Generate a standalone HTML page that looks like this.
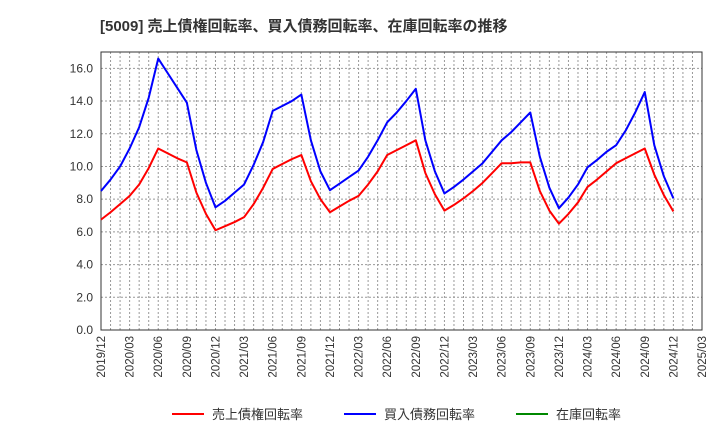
<!DOCTYPE html>
<html><head><meta charset="utf-8"><style>
body{margin:0;background:#fff;font-family:"Liberation Sans","Noto Sans CJK JP",sans-serif;}
svg text{font-family:"Liberation Sans","Noto Sans CJK JP",sans-serif;}
</style></head><body>
<svg id="c" width="720" height="440" xmlns="http://www.w3.org/2000/svg">
<text x="100" y="31" font-size="15" font-weight="bold" fill="#333">[5009]  売上債権回転率、買入債務回転率、在庫回転率の推移</text>
<g id="grid"></g><g id="axes"></g><g id="series"></g>
<g>
<line x1="172" y1="414" x2="204" y2="414" stroke="#f00" stroke-width="2"/>
<text x="212" y="419" font-size="13" fill="#333">売上債権回転率</text>
<line x1="344" y1="414" x2="376" y2="414" stroke="#00f" stroke-width="2"/>
<text x="384" y="419" font-size="13" fill="#333">買入債務回転率</text>
<line x1="516" y1="414" x2="548" y2="414" stroke="#080" stroke-width="2"/>
<text x="556" y="419" font-size="13" fill="#333">在庫回転率</text>
</g>
</svg>
<script>
const xLabels=["2019/12","2020/03","2020/06","2020/09","2020/12","2021/03","2021/06","2021/09","2021/12","2022/03","2022/06","2022/09","2022/12","2023/03","2023/06","2023/09","2023/12","2024/03","2024/06","2024/09","2024/12","2025/03"];
const yTicks=[0,2,4,6,8,10,12,14,16];
const payables=[8.5,9.2,10.0,11.1,12.4,14.2,16.6,15.7,14.8,13.9,11.0,9.0,7.5,7.9,8.4,8.9,10.1,11.5,13.4,13.7,14.0,14.4,11.6,9.7,8.55,8.95,9.35,9.75,10.6,11.6,12.7,13.3,14.0,14.75,11.6,9.7,8.35,8.75,9.2,9.7,10.2,10.9,11.6,12.1,12.7,13.3,10.6,8.7,7.45,8.1,8.9,9.95,10.4,10.9,11.3,12.2,13.3,14.55,11.3,9.4,8.05];
const receivables=[6.75,7.2,7.7,8.2,8.9,9.9,11.1,10.8,10.5,10.25,8.4,7.1,6.1,6.35,6.6,6.9,7.7,8.7,9.85,10.15,10.45,10.7,9.1,8.0,7.2,7.55,7.9,8.2,8.9,9.7,10.7,11.0,11.3,11.6,9.6,8.3,7.3,7.65,8.05,8.5,9.0,9.6,10.2,10.2,10.25,10.25,8.5,7.3,6.5,7.1,7.8,8.75,9.2,9.7,10.2,10.5,10.8,11.1,9.5,8.25,7.25];
const inventory=[];
const L=101,R=702,T=52,B=330,yMax=17,nM=63;
const xs=i=>L+i*(R-L)/nM, ys=v=>B-v*(B-T)/yMax;
const NS="http://www.w3.org/2000/svg";
function mk(t,a,p){const e=document.createElementNS(NS,t);for(const k in a)e.setAttribute(k,a[k]);p.appendChild(e);return e;}
const g=document.getElementById('grid'),ax=document.getElementById('axes'),s=document.getElementById('series');
for(let i=1;i<nM;i++){const l=mk('line',{x1:xs(i),x2:xs(i),y1:T,y2:B,stroke:'#999','stroke-dasharray':'2,2','stroke-width':1},g);

}
yTicks.forEach(v=>{if(v>0){const l=mk('line',{x1:L,x2:R,y1:ys(v),y2:ys(v),stroke:'#999','stroke-dasharray':'2,2','stroke-width':1},g);

}
const t=mk('text',{x:L-8,y:ys(v)+4,'font-size':12,'text-anchor':'end',fill:'#333'},ax);t.textContent=v.toFixed(1);

});
const r=mk('rect',{x:L,y:T,width:R-L,height:B-T,fill:'none',stroke:'#333','stroke-width':1},ax);


xLabels.forEach((lb,i)=>{const x=xs(i*3);const t=mk('text',{x:x+4,y:B+6,'font-size':11.5,'text-anchor':'end',fill:'#333',transform:`rotate(-90 ${x+4} ${B+6})`},ax);t.textContent=lb;

});
function line(d,c,n){if(!d.length)return;const p=mk('polyline',{points:d.map((v,i)=>xs(i)+','+ys(v)).join(' '),fill:'none',stroke:c,'stroke-width':2,'stroke-linejoin':'round'},s);

}
line(receivables,'#f00','receivables-line');
line(payables,'#00f','payables-line');
line(inventory,'#080','inventory-line');
</script>
</body></html>
